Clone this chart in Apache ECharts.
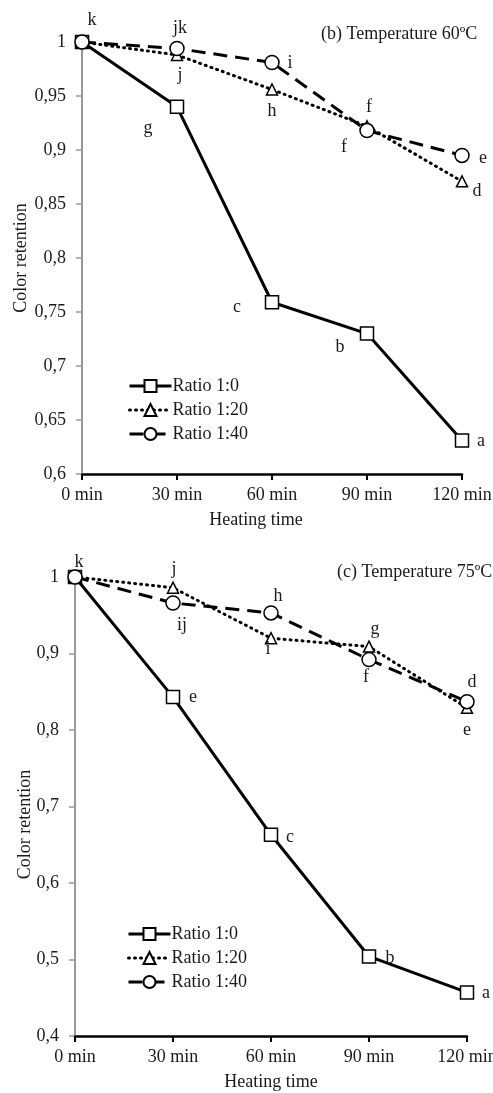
<!DOCTYPE html>
<html>
<head>
<meta charset="utf-8">
<script src="https://cdn.jsdelivr.net/npm/echarts@6/dist/echarts.min.js"></script>
<style>
  html, body { margin: 0; padding: 0; background: #fff; }
  #chart { width: 493px; height: 1093px; }
</style>
</head>
<body>
<div id="chart"></div>
<script>
// Heating time categories (x axis)
const heatingTimes = ['0 min', '30 min', '60 min', '90 min', '120 min'];
const seriesNames = ['Ratio 1:0', 'Ratio 1:20', 'Ratio 1:40'];

// Panel (b): 60 ºC colour retention
const t60Ratio0  = [1, 0.940, 0.759, 0.730, 0.631];
const t60Ratio20 = [1, 0.988, 0.956, 0.922, 0.871];
const t60Ratio40 = [1, 0.994, 0.981, 0.918, 0.895];
const t60Letters0  = ['k', 'g', 'c', 'b', 'a'];
const t60Letters20 = ['', 'j', 'h', 'f', 'd'];
const t60Letters40 = ['', 'jk', 'i', 'f', 'e'];

// Panel (c): 75 ºC colour retention
const t75Ratio0  = [1, 0.843, 0.663, 0.504, 0.457];
const t75Ratio20 = [1, 0.986, 0.920, 0.909, 0.829];
const t75Ratio40 = [1, 0.966, 0.953, 0.892, 0.837];
const t75Letters0  = ['k', 'e', 'c', 'b', 'a'];
const t75Letters20 = ['', 'j', 'i', 'g', 'e'];
const t75Letters40 = ['', 'ij', 'h', 'f', 'd'];

// Where each significance letter sits relative to its marker (px)
const t60Offsets = [
  [[10, -22], [-29, 21], [-35, 5], [-27, 14], [19, 1]],
  [null, [3, 20], [0, 22], [-23, 21], [15, 10]],
  [null, [3, -20], [18, 1], [2, -23], [21, 3]]
];
const t75Offsets = [
  [[4, -15], [20, 0], [19, 2], [21, 2], [19, 1]],
  [null, [1, -18], [-3, 11], [6, -17], [0, 22]],
  [null, [9, 22], [7, -17], [-3, 18], [5, -19]]
];

const FONT = 'Liberation Serif, Times New Roman, serif';
const INK = '#1a1a1a';
const FS = 18;

const seriesStyles = [
  { symbol: 'rect', symbolSize: 13, line: { type: 'solid', width: 3 } },
  { symbol: 'triangle', symbolSize: 11, line: { type: [1, 5], width: 3, cap: 'round' } },
  { symbol: 'circle', symbolSize: 14, line: { type: [14, 8], width: 3 } }
];

function buildSeries(idx, values, letters, offsets, panel) {
  const st = seriesStyles[idx];
  return {
    type: 'line',
    name: seriesNames[idx],
    xAxisIndex: panel,
    yAxisIndex: panel,
    symbol: st.symbol,
    symbolSize: st.symbolSize,
    showAllSymbol: true,
    lineStyle: { color: '#000', width: st.line.width, type: st.line.type, cap: st.line.cap || 'butt' },
    itemStyle: { color: '#fff', borderColor: '#000', borderWidth: 1.5 },
    emphasis: { disabled: true },
    animation: false,
    z: 2 + idx,
    data: values.map((v, i) => ({
      value: v,
      label: {
        show: !!letters[i],
        formatter: letters[i] || '',
        position: 'inside',
        offset: offsets[i] || [0, 0],
        fontFamily: FONT,
        fontSize: FS,
        color: INK
      }
    }))
  };
}

const decimalComma = v => String(+v.toFixed(2)).replace('.', ',');

function xAxisFor(panel, namePad) {
  return {
    type: 'category',
    gridIndex: panel,
    data: heatingTimes,
    boundaryGap: false,
    axisLine: { lineStyle: { color: '#000', width: 2.5 } },
    axisTick: { show: true, alignWithLabel: true, length: 6, lineStyle: { color: '#000', width: 2 } },
    axisLabel: { fontFamily: FONT, fontSize: FS, color: INK, margin: 12, showMaxLabel: true },
    splitLine: { show: false },
    name: 'Heating time',
    nameLocation: 'middle',
    nameGap: 37,
    nameMoveOverlap: false,
    nameTextStyle: { fontFamily: FONT, fontSize: FS, color: INK, padding: namePad }
  };
}

function yAxisFor(panel, min, interval, gap, namePad) {
  return {
    type: 'value',
    gridIndex: panel,
    min: min,
    max: 1,
    interval: interval,
    axisLine: { show: true, lineStyle: { color: '#999', width: 2 } },
    axisTick: { show: true, length: 6, lineStyle: { color: '#999', width: 1.5 } },
    axisLabel: { fontFamily: FONT, fontSize: FS, color: INK, margin: 16, formatter: decimalComma },
    splitLine: { show: false },
    name: 'Color retention',
    nameLocation: 'middle',
    nameRotate: 90,
    nameGap: gap,
    nameMoveOverlap: false,
    nameTextStyle: { fontFamily: FONT, fontSize: FS, color: INK, padding: namePad }
  };
}

function legendFor(left, top) {
  return {
    orient: 'vertical',
    left: left,
    top: top,
    itemWidth: 42,
    itemHeight: 15,
    itemGap: 6,
    selectedMode: false,
    data: seriesNames,
    lineStyle: { width: 3 },
    textStyle: { fontFamily: FONT, fontSize: FS, color: INK, padding: [0, 0, 0, -4] }
  };
}

const chart = echarts.init(document.getElementById('chart'), null, { renderer: 'canvas' });
chart.setOption({
  backgroundColor: '#fff',
  animation: false,
  title: [
    { text: '(b) Temperature 60ºC', left: 316, top: 20,
      textStyle: { fontFamily: FONT, fontSize: 18, fontWeight: 'normal', color: INK } },
    { text: '(c) Temperature 75ºC', left: 332, top: 558,
      textStyle: { fontFamily: FONT, fontSize: 18, fontWeight: 'normal', color: INK } }
  ],
  legend: [legendFor(123, 372), legendFor(122, 920)],
  grid: [
    { left: 82, top: 42, width: 380, height: 432, outerBoundsMode: 'none', containLabel: false },
    { left: 75, top: 577, width: 392, height: 459, outerBoundsMode: 'none', containLabel: false }
  ],
  xAxis: [xAxisFor(0, [0, 32, 0, 0]), xAxisFor(1, [0, 0, 0, 0])],
  yAxis: [yAxisFor(0, 0.6, 0.05, 52, [0, 0, 0, 0]), yAxisFor(1, 0.4, 0.1, 41, [0, 36, 0, 0])],
  series: [
    buildSeries(0, t60Ratio0, t60Letters0, t60Offsets[0], 0),
    buildSeries(1, t60Ratio20, t60Letters20, t60Offsets[1], 0),
    buildSeries(2, t60Ratio40, t60Letters40, t60Offsets[2], 0),
    buildSeries(0, t75Ratio0, t75Letters0, t75Offsets[0], 1),
    buildSeries(1, t75Ratio20, t75Letters20, t75Offsets[1], 1),
    buildSeries(2, t75Ratio40, t75Letters40, t75Offsets[2], 1)
  ]
});
</script>
</body>
</html>
